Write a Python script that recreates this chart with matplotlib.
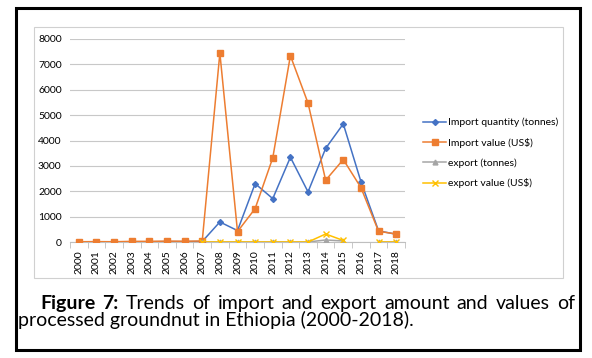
import matplotlib.pyplot as plt
import numpy as np
from matplotlib.patches import Rectangle

# lata i serie
lata = [str(r) for r in range(2000, 2019)]
import_ilosc = [5, 5, 5, 10, 10, 15, 15, 20, 790, 450, 2300, 1710, 3340, 1975, 3690, 4655, 2380, 440, 305]
import_wartosc = [10, 15, 10, 25, 25, 35, 30, 40, 7447, 410, 1316, 3316, 7342, 5474, 2434, 3250, 2145, 421, 316]
eksport_ilosc = [np.nan] * 7 + [0, 0, 0, 0, 0, 0, 0, 80, 40, np.nan, 0, 0]
eksport_wartosc = [np.nan] * 7 + [0, 0, 0, 0, 0, 0, 0, 315, 60, np.nan, 0, 0]

plt.rcParams['font.family'] = ['Lato', 'DejaVu Sans']

W, H = 592, 358
fig = plt.figure(figsize=(W / 100, H / 100), dpi=100)

# ramki
fig.patches.append(Rectangle((16 / W, 1 - 350 / H), 564 / W, 342 / H, transform=fig.transFigure,
                             fill=False, edgecolor='black', linewidth=2.2))
fig.patches.append(Rectangle((34 / W, 1 - 278 / H), 529 / W, 251 / H, transform=fig.transFigure,
                             fill=False, edgecolor='#d0d0d0', linewidth=0.8))

ax = fig.add_axes([70 / W, 1 - 242 / H, 335 / W, 203 / H])
x = np.arange(len(lata))

ax.plot(x, import_ilosc, color='#4472C4', marker='D', markersize=3, linewidth=1.1,
        label='Import quantity (tonnes)', zorder=3)
ax.plot(x, import_wartosc, color='#ED7D31', marker='s', markersize=4.5, linewidth=1.1,
        label='Import value (US$)', zorder=4)
ax.plot(x, eksport_ilosc, color='#A5A5A5', marker='^', markersize=3.5, linewidth=1.1,
        label='export (tonnes)', zorder=5)
ax.plot(x, eksport_wartosc, color='#FFC000', marker='x', markersize=4, linewidth=1.1,
        label='export value (US$)', zorder=6)

ax.set_xlim(-0.5, len(lata) - 0.5)
ax.set_ylim(0, 8000)
ax.set_yticks(range(0, 8001, 1000))
ax.set_xticks(x)
ax.set_xticklabels(lata, rotation=90, fontsize=7.5)
ax.set_xticks(np.arange(-0.5, len(lata), 1), minor=True)
ax.tick_params(axis='x', which='major', length=0, pad=6)
ax.tick_params(axis='x', which='minor', length=4, color='#bfbfbf')
ax.tick_params(axis='y', length=0, labelsize=7.5, pad=6)
ax.grid(axis='y', color='#c8c8c8', linewidth=0.8)
ax.set_axisbelow(True)
for s in ['top', 'right', 'left']:
    ax.spines[s].set_visible(False)
ax.spines['bottom'].set_color('#bfbfbf')

leg = fig.legend(loc='center left', bbox_to_anchor=(414 / W, 1 - 153 / H), frameon=False,
                 fontsize=7.5, handlelength=2.2, handletextpad=0.2, labelspacing=1.0)

# podpis - pierwsza linia wyjustowana
rozm = 14
renderer = fig.canvas.get_renderer()
slowa = [('Figure', 'bold'), ('7:', 'bold'), ('Trends', 'normal'), ('of', 'normal'),
         ('import', 'normal'), ('and', 'normal'), ('export', 'normal'), ('amount', 'normal'),
         ('and', 'normal'), ('values', 'normal'), ('of', 'normal')]
teksty = []
szer = 0
for s, w in slowa:
    t = fig.text(0, 1 - 309 / H, s, fontsize=rozm, fontweight=w, va='baseline')
    teksty.append(t)
    szer += t.get_window_extent(renderer).width
lewo, prawo = 40, 575
odstep = (prawo - lewo - szer) / (len(slowa) - 1)
pos = lewo
for t in teksty:
    t.set_x(pos / W)
    pos += t.get_window_extent(renderer).width + odstep

fig.text(18 / W, 1 - 326 / H, 'processed groundnut in Ethiopia (2000-2018).', fontsize=rozm,
         va='baseline')

fig.savefig('out.png', dpi=100)
